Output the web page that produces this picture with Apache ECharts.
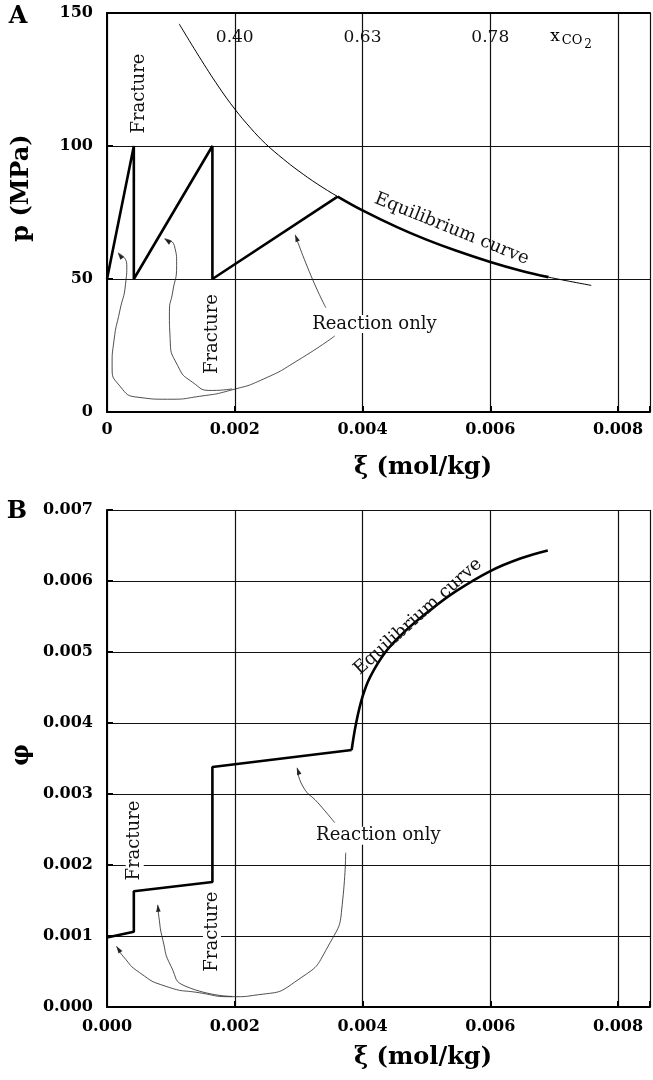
<!DOCTYPE html>
<html>
<head>
<meta charset="utf-8">
<script src="https://cdn.jsdelivr.net/npm/echarts@6/dist/echarts.min.js"></script>
<style>
  html, body { margin: 0; padding: 0; background: #fff; }
  #chart { width: 653px; height: 1080px; }
</style>
</head>
<body>
<div id="chart"></div>
<script>
// ---- panel A : pressure vs reaction progress ----
const sawXi = [0, 0.00042, 0.00042, 0.00165, 0.00165, 0.00361];
const sawP = [50, 100, 50, 100, 50, 81];
const eqXi = [0.00113, 0.00144, 0.00175, 0.002, 0.00225, 0.00248, 0.00276, 0.00299, 0.0033, 0.00361,
  0.004, 0.00454, 0.00499, 0.00547, 0.006, 0.00648, 0.00691, 0.00758];
const eqP = [145.9, 133.7, 122.2, 113.9, 106.7, 100.9, 95.1, 90.8, 85.6, 81.0,
  75.8, 69.5, 64.9, 60.6, 56.4, 53.1, 50.7, 47.6];
const eqThickFrom = 9, eqThickTo = 16; // part of the curve followed by the path
const xco2Xi = [0.002, 0.004, 0.006];
const xco2Labels = ['0.40', '0.63', '0.78'];
const pTicks = [0, 50, 100, 150];

// ---- panel B : porosity vs reaction progress ----
const phiXi = [0, 0.00042, 0.00042, 0.00165, 0.00165, 0.00383];
const phiVal = [0.00098, 0.00106, 0.00163, 0.00176, 0.00338, 0.00362];
const phiEqXi = [0.00383, 0.0039, 0.004, 0.00412, 0.00436, 0.00465, 0.00506, 0.00547, 0.006, 0.00648, 0.0069];
const phiEqVal = [0.00362, 0.0040, 0.00437, 0.00465, 0.0050, 0.00528, 0.00559, 0.00586, 0.00614, 0.00632, 0.00643];
const phiTicks = [0, 0.001, 0.002, 0.003, 0.004, 0.005, 0.006, 0.007];
const xiTicks = [0, 0.002, 0.004, 0.006, 0.008];

// annotation arrows (data units), last point is the arrow tip
const arrowsA = [
  [[0.003566, 28.6], [0.003, 19.6], [0.002450, 12.4], [0.001953, 8.3], [0.001450, 5.9], [0.000950, 4.8],
   [0.000500, 5.5], [0.000200, 9.8], [0.0000800, 17.3], [0.000110, 27.0], [0.000200, 38.0], [0.000290, 48.0],
   [0.000310, 55.5], [0.000171, 59.8]],
  [[0.001958, 8.7], [0.001648, 8.1], [0.001338, 11.2], [0.001105, 17.5], [0.000988, 27.6], [0.000977, 37.6],
   [0.001028, 45.1], [0.00109, 55.1], [0.001054, 62.6], [0.000899, 65.1]],
  [[0.003426, 39.2], [0.003194, 51.2], [0.002946, 66.6]]
];
const arrowsB = [
  [[0.003736, 0.002173], [0.00369, 0.001511], [0.003457, 0.000849], [0.002992, 0.000384], [0.002372, 0.000173],
   [0.001953, 0.000145], [0.001444, 0.000201], [0.000926, 0.000290], [0.000512, 0.000483], [0.000253, 0.000713],
   [0.000150, 0.000854]],
  [[0.001958, 0.000149], [0.001236, 0.00029], [0.001003, 0.000572], [0.000873, 0.000948], [0.000811, 0.001276],
   [0.000795, 0.00144]],
  [[0.003566, 0.002595], [0.003302, 0.002876], [0.00307, 0.003101], [0.002977, 0.003369]]
];

const SERIF = '"DejaVu Serif", "Liberation Serif", serif';
const pair = (xs, ys) => xs.map((x, i) => [x, ys[i]]);
const onTick = (v, list) => list.some(t => Math.abs(t - v) < 1e-9);

const chart = echarts.init(document.getElementById('chart'));

function xAxis(grid, fmt) {
  return {
    type: 'value', gridIndex: grid, min: 0, max: 0.0085, interval: 0.002,
    axisLine: { show: true, lineStyle: { color: '#000', width: 2 } },
    axisTick: { show: true, inside: true, length: 6, lineStyle: { color: '#000', width: 2 } },
    axisLabel: {
      margin: grid === 0 ? 10 : 12, color: '#000', fontFamily: SERIF, fontWeight: 'bold', fontSize: 16,
      formatter: v => onTick(v, xiTicks) ? fmt(v) : ''
    },
    splitLine: { show: true, lineStyle: { color: '#111', width: 1.2 } }
  };
}
function yAxis(grid, min, max, step, ticks, fmt) {
  return {
    type: 'value', gridIndex: grid, min: min, max: max, interval: step,
    axisLine: { show: true, lineStyle: { color: '#000', width: 2 } },
    axisTick: { show: true, inside: true, length: 6, lineStyle: { color: '#000', width: 2 } },
    axisLabel: {
      margin: 14, color: '#000', fontFamily: SERIF, fontWeight: 'bold', fontSize: 16,
      formatter: v => onTick(v, ticks) ? fmt(v) : ''
    },
    splitLine: { show: true, lineStyle: { color: '#111', width: 1.2 } }
  };
}

const thick = { color: '#000', width: 2.6 };
const thin = { color: '#222', width: 0.8 };

const series = [
  { type: 'line', xAxisIndex: 0, yAxisIndex: 0, data: pair(sawXi, sawP), symbol: 'none', lineStyle: thick },
  { type: 'line', xAxisIndex: 0, yAxisIndex: 0, data: pair(eqXi, eqP), symbol: 'none', smooth: 0.4,
    lineStyle: { color: '#000', width: 1 } },
  { type: 'line', xAxisIndex: 0, yAxisIndex: 0,
    data: pair(eqXi, eqP).slice(eqThickFrom, eqThickTo + 1), symbol: 'none', smooth: 0.4, lineStyle: thick },
  { type: 'line', xAxisIndex: 1, yAxisIndex: 1, data: pair(phiXi, phiVal), symbol: 'none', lineStyle: thick },
  { type: 'line', xAxisIndex: 1, yAxisIndex: 1, data: pair(phiEqXi, phiEqVal), symbol: 'none', smooth: 0.4,
    lineStyle: thick }
];
arrowsA.forEach(a => series.push({ type: 'line', xAxisIndex: 0, yAxisIndex: 0, data: a, symbol: 'none',
  smooth: 0.6, lineStyle: thin }));
arrowsB.forEach(a => series.push({ type: 'line', xAxisIndex: 1, yAxisIndex: 1, data: a, symbol: 'none',
  smooth: 0.6, lineStyle: thin }));

chart.setOption({
  animation: false,
  backgroundColor: '#fff',
  grid: [
    // 0.008 sits at x=623; the edge at 0.0085 falls just off the page
    { left: 107, right: -2.25, top: 13, bottom: 668 },
    { left: 107, right: -2.25, top: 510, bottom: 73 }
  ],
  xAxis: [
    xAxis(0, v => v === 0 ? '0' : v.toFixed(3)),
    xAxis(1, v => v.toFixed(3)),
    { type: 'value', gridIndex: 0, position: 'top', min: 0, max: 0.0085,
      axisLine: { show: true, lineStyle: { color: '#000', width: 2.2 } },
      axisTick: { show: false }, axisLabel: { show: false }, splitLine: { show: false } }
  ],
  yAxis: [
    yAxis(0, 0, 150, 50, pTicks, v => String(v)),
    yAxis(1, 0, 0.007, 0.001, phiTicks, v => v.toFixed(3))
  ],
  series: series
});

// ---- annotations, placed through the axes ----
function px(panel, pt) {
  return chart.convertToPixel({ seriesIndex: panel === 0 ? 0 : 3 }, pt);
}
function note(panel, pt, text, rotDeg, bg, size) {
  const [x, y] = px(panel, pt);
  return {
    type: 'text', x: x, y: y, rotation: (rotDeg || 0) * Math.PI / 180, z: 20,
    style: {
      text: text, font: (size || 18) + 'px ' + SERIF, fill: '#111',
      align: 'center', verticalAlign: 'middle',
      backgroundColor: bg ? '#fff' : 'transparent', padding: bg ? [0, 2] : 0
    }
  };
}
function head(panel, pts) {
  const q = px(panel, pts[pts.length - 1]);
  const p = px(panel, pts[pts.length - 2]);
  const dx = q[0] - p[0], dy = q[1] - p[1];
  const L = Math.hypot(dx, dy), ux = dx / L, uy = dy / L;
  const len = 7, w = 2.3;
  const bx = q[0] - ux * len, by = q[1] - uy * len;
  return {
    type: 'polygon', z: 15,
    shape: { points: [q, [bx - uy * w, by + ux * w], [bx + uy * w, by - ux * w]] },
    style: { fill: '#222' }
  };
}
function fixed(x, y, text, font, rotDeg) {
  return {
    type: 'text', x: x, y: y, rotation: (rotDeg || 0) * Math.PI / 180, z: 20,
    style: { text: text, font: font, fill: '#000', align: 'center', verticalAlign: 'middle' }
  };
}

const titleFont = 'bold 24px ' + SERIF;
const graphic = [
  fixed(18, 17, 'A', titleFont),
  fixed(17, 512, 'B', titleFont),
  fixed(22, 188, 'p (MPa)', titleFont, 90),
  fixed(22, 755, 'φ', titleFont, 90),
  fixed(423, 468, 'ξ (mol/kg)', titleFont),
  fixed(423, 1058, 'ξ (mol/kg)', titleFont),
  fixed(555, 37, 'x', '17px ' + SERIF),
  fixed(572, 41, 'CO', '13px ' + SERIF),
  fixed(588, 45, '2', '12px ' + SERIF),

  note(0, [0.000512, 119.7], 'Fracture', 90, false),
  note(0, [0.001643, 29.3], 'Fracture', 90, true),
  note(0, [0.004186, 33.1], 'Reaction only', 0, true),
  note(0, [0.005395, 68.8], 'Equilibrium curve', -22, false),

  note(1, [0.000434, 0.002344], 'Fracture', 90, true),
  note(1, [0.001643, 0.001061], 'Fracture', 90, true),
  note(1, [0.004248, 0.002413], 'Reaction only', 0, true),
  note(1, [0.004868, 0.005497], 'Equilibrium curve', 42, false)
];
xco2Xi.forEach((x, i) => graphic.push(note(0, [x, 140.8], xco2Labels[i], 0, false, 17)));
arrowsA.forEach(a => graphic.push(head(0, a)));
arrowsB.forEach(a => graphic.push(head(1, a)));

chart.setOption({ graphic: graphic });
</script>
</body>
</html>
